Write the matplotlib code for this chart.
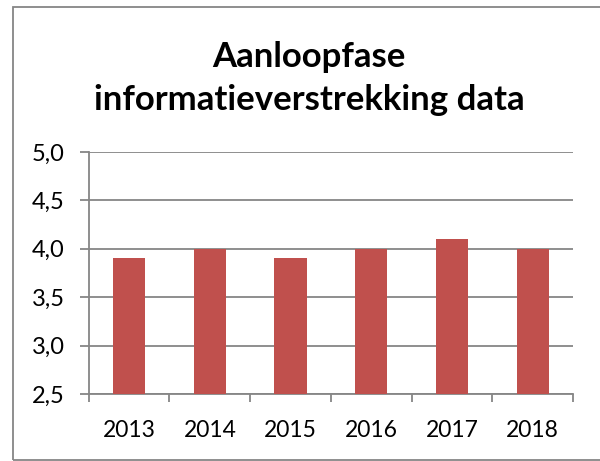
import matplotlib
matplotlib.use("Agg")
import matplotlib.pyplot as plt
from matplotlib.patches import Rectangle
from matplotlib.ticker import FixedLocator

years = ['2013', '2014', '2015', '2016', '2017', '2018']
scores = [3.9, 4.0, 3.9, 4.0, 4.1, 4.0]
y_ticks = [2.5, 3.0, 3.5, 4.0, 4.5, 5.0]
y_labels = ['2,5', '3,0', '3,5', '4,0', '4,5', '5,0']
title = 'Aanloopfase\ninformatieverstrekking data'

plt.rcParams['font.family'] = ['Lato', 'DejaVu Sans']

fig = plt.figure(figsize=(6, 4.61), dpi=100)
ax = fig.add_axes([0.148, 0.1453, 0.807, 0.525])

x = list(range(len(years)))
ax.bar(x, scores, width=0.4, color='#C0504D', zorder=3)

ax.set_ylim(2.5, 5.0)
ax.set_xlim(-0.5, len(years) - 0.5)
ax.set_yticks(y_ticks)
ax.set_yticklabels(y_labels, fontsize=17)
ax.set_xticks(x)
ax.set_xticklabels(years, fontsize=16.5)
ax.tick_params(axis='x', which='major', length=0, pad=19)
ax.xaxis.set_minor_locator(FixedLocator([i - 0.5 for i in range(len(years) + 1)]))
ax.tick_params(axis='x', which='minor', length=6, width=1.3, color='#868686', direction='out')
ax.tick_params(axis='y', length=6.5, width=1.3, color='#868686', pad=11)

ax.grid(axis='y', color='#868686', linewidth=1.3, zorder=0)
for s in ['top', 'right']:
    ax.spines[s].set_visible(False)
for s in ['left', 'bottom']:
    ax.spines[s].set_color('#868686')
    ax.spines[s].set_linewidth(1.3)

fig.text(0.515, 0.83, title, ha='center', va='center', fontsize=25,
         fontweight='bold', linespacing=1.42)

fig.patches.append(Rectangle((12.5 / 600, 1 / 461), 1.0, 453 / 461,
                             transform=fig.transFigure, fill=False,
                             edgecolor='#868686', linewidth=1.3))

fig.savefig('out.png', dpi=100)
